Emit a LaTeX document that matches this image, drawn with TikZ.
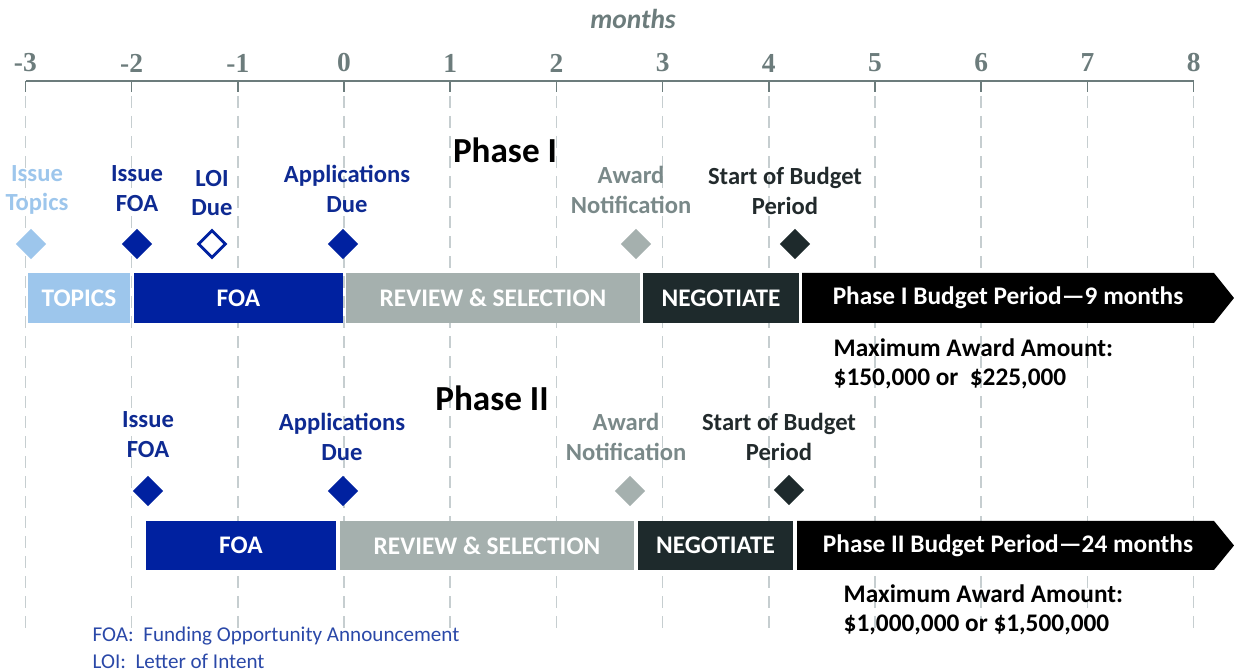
\documentclass[tikz,border=0pt]{standalone}
\usepackage{fontspec}
\setmainfont{Carlito}
\newfontfamily\tickfont{Liberation Serif}
\usetikzlibrary{shapes.geometric}

\definecolor{topicblue}{RGB}{157,198,236}
\definecolor{foablue}{RGB}{0,33,160}
\definecolor{lblblue}{RGB}{14,42,146}
\definecolor{reviewgray}{RGB}{165,176,174}
\definecolor{awardgray}{RGB}{122,137,137}
\definecolor{negdark}{RGB}{30,42,44}
\definecolor{startdark}{RGB}{34,42,44}
\definecolor{axisgray}{RGB}{108,124,124}
\definecolor{gridgray}{RGB}{198,206,208}
\definecolor{legendblue}{RGB}{42,72,168}

\begin{document}
\begin{tikzpicture}[x=0.01cm,y=-0.01cm,
    bar/.style={rectangle,inner sep=0pt,text=white,font=\bfseries\fontsize{7.2}{8}\selectfont},
    milestone/.style={diamond,inner sep=0pt,minimum width=0.31cm,minimum height=0.31cm},
    lbl/.style={align=center,inner sep=0pt,font=\bfseries\fontsize{7}{8.5}\selectfont},
    phase/.style={inner sep=0pt,font=\bfseries\fontsize{10}{12}\selectfont},
    amount/.style={anchor=west,align=left,inner sep=0pt,font=\bfseries\fontsize{7.2}{8.3}\selectfont},
    note/.style={anchor=west,inner sep=0pt,text=legendblue,font=\fontsize{6}{7}\selectfont}]
  \useasboundingbox (0,0) rectangle (1234,671);

  % month axis
  \node[inner sep=0pt,text=axisgray,font=\bfseries\itshape\fontsize{7.8}{9}\selectfont] (months) at (633,19) {months};
  \draw[axisgray,line width=0.6pt] (26,81) -- (1194,81);
  \foreach \m in {-3,...,8}{
    \draw[axisgray,line width=0.45pt] (344+106.2*\m,81) -- (344+106.2*\m,92);
    \draw[gridgray,line width=0.45pt,dash pattern=on 0.12cm off 0.08cm] (344+106.2*\m,96) -- (344+106.2*\m,635);
    \node[inner sep=0pt,text=axisgray,font=\tickfont\bfseries\fontsize{7.8}{9}\selectfont] (tick\m) at (344+106.2*\m,63) {\m};
  }

  % Phase I
  \node[phase] (phaseone) at (505,150) {Phase I};
  \node[lbl,text=topicblue] (topicslbl) at (37,190) {Issue\\Topics};
  \node[lbl,text=lblblue] (foalblone) at (137,189) {Issue\\FOA};
  \node[lbl,text=lblblue] (loilbl) at (212,193) {LOI\\Due};
  \node[lbl,text=lblblue] (applblone) at (347,189) {Applications\\Due};
  \node[lbl,text=awardgray] (awardlblone) at (631,190) {Award\\Notification};
  \node[lbl,text=startdark] (startlblone) at (785,191) {Start of Budget\\Period};

  \node[milestone,fill=topicblue] (topicsms) at (31,244) {};
  \node[milestone,fill=foablue] (foamsone) at (137,244) {};
  \node[milestone,draw=foablue,fill=white,line width=0.8pt,minimum width=0.28cm,minimum height=0.28cm] (loims) at (212,244) {};
  \node[milestone,fill=foablue] (appmsone) at (343,244) {};
  \node[milestone,fill=reviewgray] (awardmsone) at (636,244) {};
  \node[milestone,fill=negdark] (startmsone) at (795,244) {};

  \node[bar,fill=topicblue,minimum width=1.02cm,minimum height=0.5cm] (topicsbar) at (79,298) {TOPICS};
  \node[bar,fill=foablue,minimum width=2.09cm,minimum height=0.5cm] (foabarone) at (238.5,298) {FOA};
  \node[bar,fill=reviewgray,minimum width=2.94cm,minimum height=0.5cm] (reviewbarone) at (493,298) {REVIEW \& SELECTION};
  \node[bar,fill=negdark,minimum width=1.56cm,minimum height=0.5cm] (negbarone) at (721,298) {NEGOTIATE};
  \fill[black] (802,273) -- (1214,273) -- (1234,298) -- (1214,323) -- (802,323) -- cycle;
  \node[bar] (budgetbarone) at (1008,298) {Phase I Budget Period—9 months};
  \node[amount] (amountone) at (833,364) {Maximum Award Amount:\\\$150,000 or\ \ \$225,000};

  % Phase II
  \node[phase] (phasetwo) at (492,398) {Phase II};
  \node[lbl,text=lblblue] (foalbltwo) at (148,435) {Issue\\FOA};
  \node[lbl,text=lblblue] (applbltwo) at (342,437) {Applications\\Due};
  \node[lbl,text=awardgray] (awardlbltwo) at (626,437) {Award\\Notification};
  \node[lbl,text=startdark] (startlbltwo) at (779,437) {Start of Budget\\Period};

  \node[milestone,fill=foablue] (foamstwo) at (148,491) {};
  \node[milestone,fill=foablue] (appmstwo) at (343,491) {};
  \node[milestone,fill=reviewgray] (awardmstwo) at (630,491) {};
  \node[milestone,fill=negdark] (startmstwo) at (789,490) {};

  \node[bar,fill=foablue,minimum width=1.90cm,minimum height=0.49cm] (foabartwo) at (241,545.5) {FOA};
  \node[bar,fill=reviewgray,minimum width=2.94cm,minimum height=0.49cm] (reviewbartwo) at (487,545.5) {REVIEW \& SELECTION};
  \node[bar,fill=negdark,minimum width=1.55cm,minimum height=0.49cm] (negbartwo) at (715.5,545.5) {NEGOTIATE};
  \fill[black] (797,521) -- (1214,521) -- (1234,545.5) -- (1214,570) -- (797,570) -- cycle;
  \node[bar] (budgetbartwo) at (1008,545.5) {Phase II Budget Period—24 months};
  \node[amount] (amounttwo) at (843,610) {Maximum Award Amount:\\\$1,000,000 or \$1,500,000};

  % abbreviations
  \node[note] (foanote) at (92,636) {FOA:\ \ Funding Opportunity Announcement};
  \node[note] (loinote) at (92,661) {LOI:\ \ Letter of Intent};
\end{tikzpicture}
\end{document}
